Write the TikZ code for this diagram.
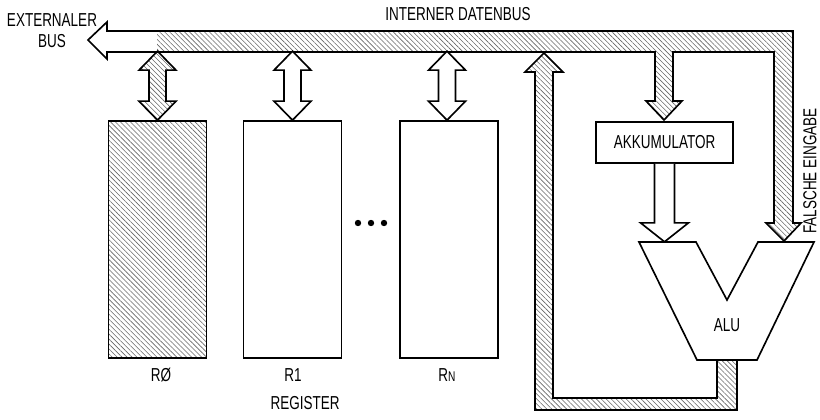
\documentclass[tikz,border=0pt]{standalone}
\usepackage{fontspec}
\setmainfont{Liberation Sans}[FakeStretch=0.72]
\usepackage{tikz}
\usetikzlibrary{patterns.meta, positioning}

% outline of the internal bus with its branches
\newcommand{\buspath}{(88,40) -- (107,22) -- (107,31) -- (793,31) -- (793,223)
  -- (801,223) -- (784,241) -- (766,223) -- (774,223) -- (774,52)
  -- (673,52) -- (673,101) -- (682,101) -- (664,120) -- (646,101) -- (655,101)
  -- (655,52) -- (107,52) -- (107,59) -- cycle}

\begin{document}
\begin{tikzpicture}[x=0.03cm, y=-0.03cm,
  line width=1.4pt, line join=miter,
  hatch/.style={pattern={Lines[angle=-45, distance=3pt, line width=0.5pt]},
                pattern color=black!60},
  reg/.style={rectangle, draw, minimum width=2.94cm, minimum height=7.11cm,
              inner sep=0pt},
  akkubox/.style={rectangle, draw, fill=white, minimum width=4.11cm,
                  minimum height=1.23cm, inner sep=0pt, font=\fontsize{16}{18}\selectfont},
  lbl/.style={inner sep=0pt, font=\fontsize{16}{18}\selectfont},
  bidir/.pic={
    \draw[pic actions] (0,0) -- (18.5,-19) -- (8.5,-19) -- (8.5,-50) -- (18.5,-50)
      -- (0,-69) -- (-18.5,-50) -- (-8.5,-50) -- (-8.5,-19) -- (-18.5,-19) -- cycle;
  },
]
  \useasboundingbox (0,0) rectangle (820,419);

  % internal data bus
  \begin{scope}
    \clip (157,0) rectangle (820,419);
    \fill[hatch] \buspath;
  \end{scope}
  \draw \buspath;
  \node[lbl] (idb) at (458,14) {INTERNER DATENBUS};
  \node[lbl, align=center] (ext) at (52,31) {EXTERNALER\\BUS};

  % registers
  \node[reg, hatch] (r0) at (157.5,239.5) {};
  \node[reg] (r1) at (292.5,239.5) {};
  \node[reg] (rn) at (449,239.5) {};
  \pic[hatch] at (r0.north) {bidir};
  \pic[fill=white] at (r1.north) {bidir};
  \pic[fill=white] at (rn.north -| 447,0) {bidir};
  \foreach \x in {358,371,384}
    \fill (\x,223) circle (3.2);
  \node[lbl] (l0) at (161,375) {RØ};
  \node[lbl] (l1) at (293,375) {R1};
  \node[lbl] (ln) at (447,375) {R{\fontsize{12}{13}\selectfont N}};
  \node[lbl] (reglbl) at (305,403) {REGISTER};

  % ALU result back to the bus
  \draw[hatch] (717,360) -- (737,360) -- (737,410) -- (535,410) -- (535,72)
    -- (525,72) -- (544,53) -- (563,72) -- (553,72) -- (553,398) -- (717,398) -- cycle;

  % accumulator and ALU
  \node[akkubox] (akku) at (664.5,142.5) {AKKUMULATOR};
  \draw[fill=white] (akku.south) ++(-10,0) -- ++(0,59) -- ++(-14,0) -- ++(24,19)
    -- ++(24,-19) -- ++(-14,0) -- ++(0,-59);
  \draw[fill=white] (639,242) -- (696,242) -- (727,300) -- (758,242) -- (814,242)
    -- (757,360) -- (697,360) -- cycle;
  \node[lbl] (alu) at (727,325) {ALU};
  \node[lbl, rotate=90] (falsch) at (810,171) {FALSCHE EINGABE};
\end{tikzpicture}
\end{document}
